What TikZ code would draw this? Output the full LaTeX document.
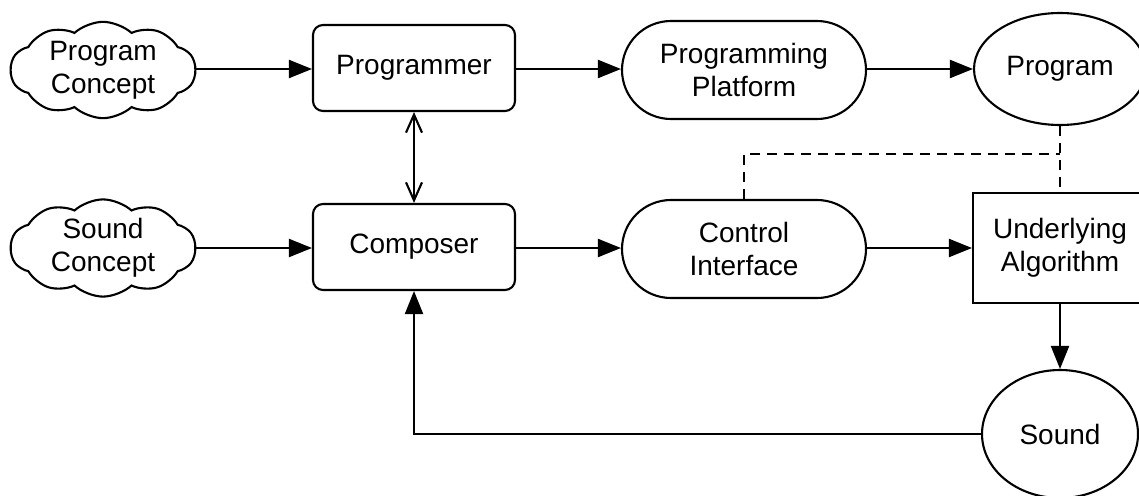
\documentclass[tikz,border=0pt]{standalone}
\usepackage{fontspec}
\setmainfont{Liberation Sans}
\usetikzlibrary{arrows.meta,shapes.misc,shapes.symbols,shapes.geometric}

\tikzset{
  every node/.style={font=\fontsize{28}{33}\selectfont, align=center, draw, line width=2.1pt, inner sep=0pt},
  idea/.style={cloud, cloud puffs=10, cloud puff arc=85, cloud ignores aspect,
               minimum width=185pt, minimum height=95pt},
  agent/.style={rectangle, rounded corners=10pt, minimum width=202pt, minimum height=86pt},
  tool/.style={rounded rectangle, minimum width=244pt, minimum height=98pt},
  thing/.style={ellipse},
  wire/.style={line width=2.1pt},
  flow/.style={wire, -{Triangle[length=23pt, width=18pt]}},
  mutual/.style={wire, {Straight Barb[length=18pt, width=16pt]}-{Straight Barb[length=18pt, width=16pt]}},
  link/.style={wire, dash pattern=on 10pt off 7pt},
}

\begin{document}
\begin{tikzpicture}[x=1pt, y=-1pt]
  \useasboundingbox (0,0) rectangle (1139,495);

  % top row: programming path
  \node[idea]  (pc)   at (103,70)  {Program\\Concept};
  \node[agent] (pgr)  at (414,68)  {Programmer};
  \node[tool]  (plat) at (744,70)  {Programming\\Platform};
  \node[thing, minimum width=172pt, minimum height=112pt] (prog) at (1060,69) {Program};

  % bottom row: composing path
  \node[idea]  (sc)   at (103,248) {Sound\\Concept};
  \node[agent] (comp) at (414,247) {Composer};
  \node[tool]  (ci)   at (744,249) {Control\\Interface};
  \node[rectangle, minimum width=174pt, minimum height=110pt] (alg) at (1060,248) {Underlying\\Algorithm};
  \node[thing, minimum width=156pt, minimum height=128pt] (snd) at (1060,434) {Sound};

  % main flows
  \draw[flow] (pc.east |- 0,69) -- (pgr.west |- 0,69);
  \draw[flow] (pgr.east |- 0,69) -- (plat.west |- 0,69);
  \draw[flow] (plat.east |- 0,69) -- (prog.west |- 0,69);
  \draw[flow] (sc.east |- 0,248) -- (comp.west |- 0,248);
  \draw[flow] (comp.east |- 0,248) -- (ci.west |- 0,248);
  \draw[flow] (ci.east |- 0,248) -- (alg.west |- 0,248);
  \draw[flow] (alg.south) -- (snd.north);
  \draw[mutual] (pgr.south) -- (comp.north);

  % feedback from the sound to the composer
  \draw[flow] (snd.west) -| (comp.south);

  % dashed relation between interface, program and algorithm
  \coordinate (j) at (prog.south |- 0,154);
  \draw[link] (ci.north) |- (j);
  \draw[link] (prog.south) -- (alg.north);
\end{tikzpicture}
\end{document}
